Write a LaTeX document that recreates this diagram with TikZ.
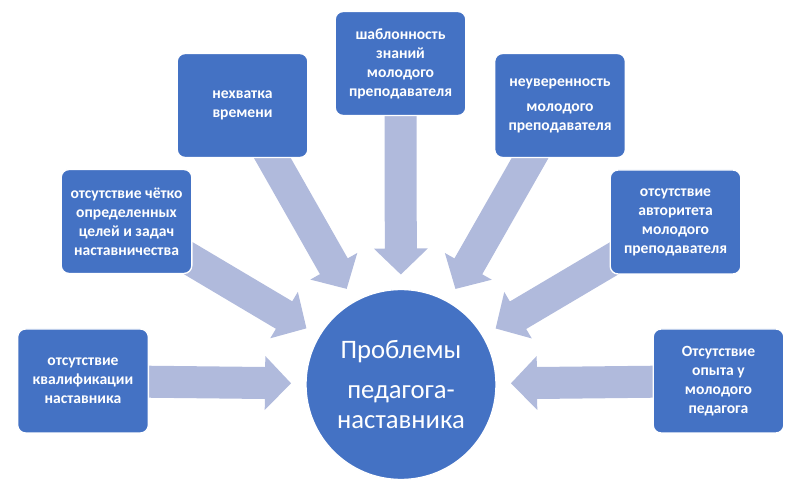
\documentclass[tikz,border=0pt]{standalone}
\usepackage{fontspec}
\setmainfont{Carlito}
\usepackage{tikz}
\usetikzlibrary{positioning,calc,backgrounds}

\definecolor{boxblue}{HTML}{4472C4}
\definecolor{arrowblue}{RGB}{176,186,220}

% block arrow from a cause box towards the centre circle
\newcommand\convarrow[1]{%
  \path ($(circ.center)!82.5pt!(#1.center)$) coordinate (tip)
        ($(tip)!19.5pt!(#1.center)$) coordinate (neck);
  \fill[arrowfill] ($(#1.center)!12pt!90:(neck)$) -- ($(neck)!12pt!-90:(#1.center)$)
    -- ($(neck)!20.25pt!-90:(#1.center)$) -- (tip) -- ($(neck)!20.25pt!90:(#1.center)$)
    -- ($(neck)!12pt!90:(#1.center)$) -- ($(#1.center)!12pt!-90:(neck)$) -- cycle;}

\begin{document}
\begin{tikzpicture}[x=0.75pt, y=-0.75pt,
        block/.style={draw=white, line width=1pt, fill=boxblue, rounded corners=6pt, minimum width=98pt, minimum height=78pt, inner sep=2pt, align=center, text=white, font=\bfseries\fontsize{11.7}{14.25}\selectfont},
        hub/.style={circle, draw=white, line width=1pt, fill=boxblue, minimum size=142.5pt, align=center, text=white, font=\fontsize{20}{22.5}\selectfont},
        arrowfill/.style={fill=arrowblue}
    ]
        \useasboundingbox (0,0) rectangle (800,491);

        % Centre
        \node [hub] (circ) at (401,384.5) {Проблемы\\[8pt]педагога-\\наставника};

        % Causes
        \node [block] (qual) at (83,381) {отсутствие\\квалификации\\наставника};
        \node [block] (goals) at (126.5,221.5) {отсутствие чётко\\определенных\\целей и задач\\наставничества};
        \node [block] (time) at (242.5,105.5) {нехватка\\времени};
        \node [block] (tmpl) at (400.5,63.5) {шаблонность\\знаний\\молодого\\преподавателя};
        \node [block] (unsure) at (560,105.5) {неуверенность\\[4.5pt]молодого\\преподавателя};
        \node [block] (auth) at (675.5,222) {отсутствие\\авторитета\\молодого\\преподавателя};
        \node [block] (exp) at (718.5,381) {Отсутствие\\опыта у\\молодого\\педагога};

        % Arrows
        \begin{scope}[on background layer]
            \foreach \b in {qual,goals,time,tmpl,unsure,auth,exp}
                \convarrow{\b};
        \end{scope}
    \end{tikzpicture}
\end{document}
